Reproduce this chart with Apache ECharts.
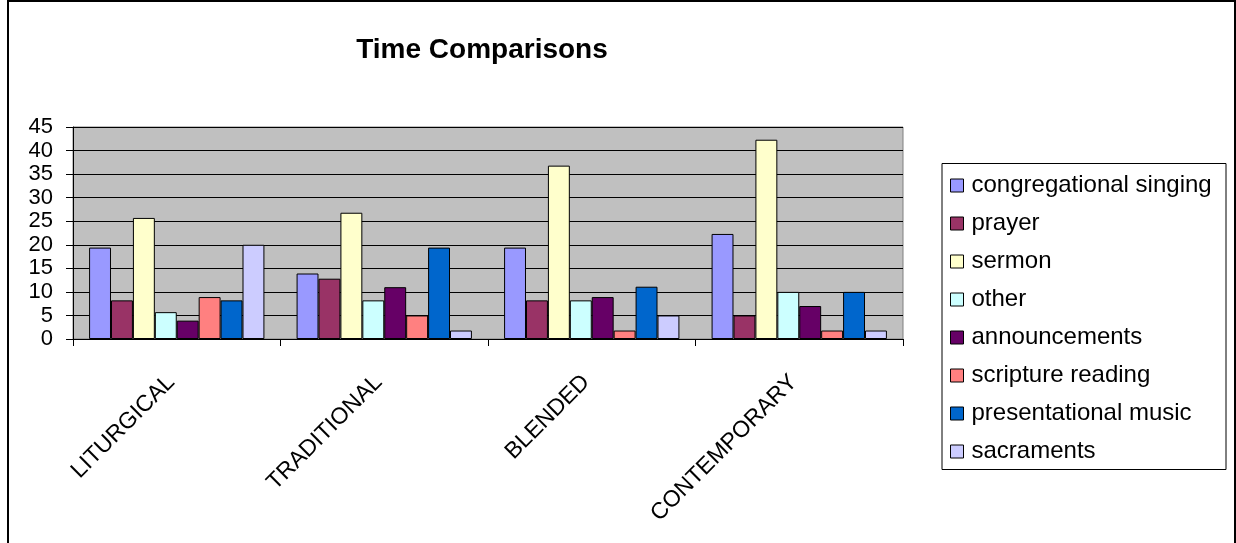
<!DOCTYPE html>
<html>
<head>
<meta charset="utf-8">
<title>Time Comparisons</title>
<script src="https://cdn.jsdelivr.net/npm/echarts@6/dist/echarts.min.js"></script>
<style>
  html, body { margin: 0; padding: 0; background: #fff; }
  #chart { width: 1236px; height: 543px; }
</style>
</head>
<body>
<div id="chart"></div>
<script>
// Service styles along the category axis
const categories = ['LITURGICAL', 'TRADITIONAL', 'BLENDED', 'CONTEMPORARY'];

// Minutes spent on each service element, per style
const congregationalSinging = [19.4, 13.9, 19.4, 22.3];
const prayer               = [8.2, 12.8, 8.2, 5.0];
const sermon               = [25.7, 26.8, 36.8, 42.3];
const other                = [5.7, 8.2, 8.2, 10.0];
const announcements        = [3.9, 11.0, 8.9, 7.0];
const scriptureReading     = [8.9, 5.0, 1.8, 1.8];
const presentationalMusic  = [8.2, 19.4, 11.1, 10.0];
const sacraments           = [20.0, 1.8, 5.0, 1.8];

const seriesNames = [
  'congregational singing', 'prayer', 'sermon', 'other',
  'announcements', 'scripture reading', 'presentational music', 'sacraments'
];
const seriesValues = [
  congregationalSinging, prayer, sermon, other,
  announcements, scriptureReading, presentationalMusic, sacraments
];
const seriesColors = [
  '#9999FF', '#993366', '#FFFFCC', '#CCFFFF',
  '#660066', '#FF8080', '#0066CC', '#CCCCFF'
];

// Value axis ticks
const yMin = 0, yMax = 45, yStep = 5;

const FONT = '"Liberation Sans", Arial, sans-serif';

const chart = echarts.init(document.getElementById('chart'), null, { renderer: 'canvas' });

chart.setOption({
  animation: false,
  backgroundColor: '#ffffff',
  textStyle: { fontFamily: FONT, color: '#000' },
  title: {
    text: 'Time Comparisons',
    left: 477,
    top: 31,
    textAlign: 'center',
    textStyle: { fontFamily: FONT, fontSize: 28, fontWeight: 'bold', color: '#000' }
  },
  graphic: [
    {
      type: 'rect', z: -10, silent: true,
      shape: { x: 8, y: 1, width: 1227, height: 600 },
      style: { fill: 'none', stroke: '#000', lineWidth: 2 }
    },
    {
      type: 'rect', z: -5, silent: true,
      shape: { x: 942, y: 163.5, width: 284, height: 306 },
      style: { fill: '#fff', stroke: '#000', lineWidth: 1 }
    }
  ],
  legend: {
    orient: 'vertical',
    left: 950,
    top: 173.5,
    padding: 0,
    itemWidth: 13,
    itemHeight: 13,
    itemGap: 14,
    icon: 'rect',
    itemStyle: { borderColor: '#000', borderWidth: 1 },
    textStyle: { fontFamily: FONT, fontSize: 24, color: '#000', padding: [0, 0, 0, 3] },
    data: seriesNames
  },
  grid: {
    left: 73, top: 127, width: 830, height: 212,
    show: true,
    backgroundColor: '#C0C0C0',
    borderColor: '#808080',
    borderWidth: 1,
    containLabel: false
  },
  xAxis: {
    type: 'category',
    data: categories,
    boundaryGap: true,
    axisLine: { lineStyle: { color: '#000', width: 1 } },
    axisTick: { show: true, length: 7, inside: false, lineStyle: { color: '#000' } },
    axisLabel: {
      interval: 0,
      rotate: 45,
      margin: 34,
      padding: [0, 8, 16, 0],
      fontFamily: FONT,
      fontSize: 23,
      color: '#000'
    },
    splitLine: { show: false }
  },
  yAxis: {
    type: 'value',
    min: yMin,
    max: yMax,
    interval: yStep,
    axisLine: { show: true, lineStyle: { color: '#000', width: 1 } },
    axisTick: { show: true, length: 7, inside: false, lineStyle: { color: '#000' } },
    axisLabel: { margin: 20, fontFamily: FONT, fontSize: 22, color: '#000' },
    splitLine: { show: true, lineStyle: { color: '#000', width: 1 } }
  },
  series: seriesNames.map((name, i) => ({
    name: name,
    type: 'bar',
    data: seriesValues[i],
    barGap: '0%',
    barCategoryGap: '15.5%',
    itemStyle: { color: seriesColors[i], borderColor: '#000', borderWidth: 1 }
  }))
});
</script>
</body>
</html>
